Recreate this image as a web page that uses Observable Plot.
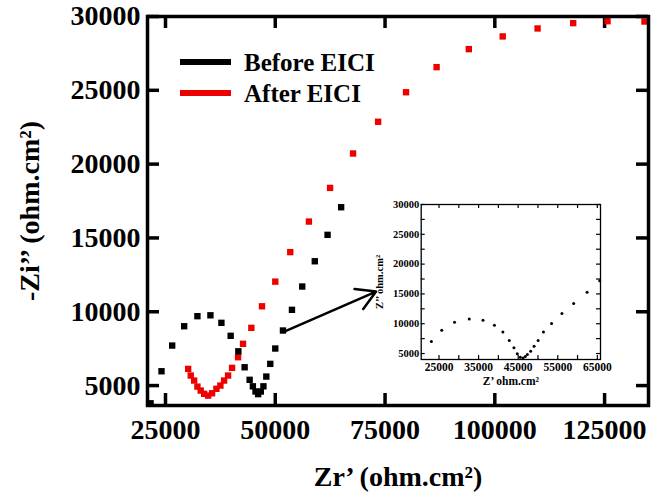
<!DOCTYPE html>
<html><head><meta charset="utf-8">
<script src="https://cdn.jsdelivr.net/npm/d3@7"></script>
<script src="https://cdn.jsdelivr.net/npm/@observablehq/plot@0.6"></script>
<style>
body{margin:0;background:#fff;}
#wrap{position:relative;width:667px;height:492px;overflow:hidden;background:#fff;}
#wrap svg{position:absolute;}
#legend{position:absolute;left:180px;top:46.5px;font-family:"Liberation Serif","Times New Roman",serif;font-weight:bold;font-size:25px;line-height:31px;color:#000;}
#legend .row{display:flex;align-items:center;height:31px;}
#legend .sw{width:51px;height:6px;margin-right:13px;}
</style></head><body><div id="wrap"></div>
<script>
// Main chart data (Zr', -Zi'')
const beforeX = [21600,24090,26520,29250,32270,35230,37730,39840,41590,43020,44160,44900,45500,46100,46700,47300,47960,48860,50000,51750,53800,56140,59000,61910,65000];
const beforeY = [3800,5970,7710,9020,9700,9760,9250,8370,7320,6240,5390,4950,4600,4420,4600,4950,5610,6470,7510,8730,10130,11710,13420,15210,17080];
const afterX = [30160,30750,31520,32270,33020,33800,34710,35610,36590,37500,38340,39250,40160,41530,42660,44550,46980,50000,53410,57660,62480,67710,73420,79780,86740,94080,101800,109740,117850,125670,134080];
const afterY = [6130,5680,5340,4930,4660,4440,4320,4480,4780,5000,5340,5680,6200,6920,7830,8910,10370,12040,14040,16110,18390,20720,22870,24870,26570,27790,28650,29190,29550,29680,29660];
const xTicks = [25000,50000,75000,100000,125000];
const yTicks = [5000,10000,15000,20000,25000,30000];
const seriesNames = ["Before EICI","After EICI"];
const seriesColors = ["#000000","#ee0000"];
// arrow annotation (data units): from point to inset
const arrowFrom = [52050, 8660];
const arrowTo = [72960, 11370];

// Inset data
const insetX = [23070,25690,28920,32640,36120,39000,41140,42740,43930,44770,45540,46230,46810,47320,48160,49020,50040,51390,53430,56050,59030,62410,65600];
const insetY = [7030,8890,10240,10800,10580,9730,8600,7200,5960,4950,4370,4270,4490,4830,5390,6230,7200,8600,10020,11710,13400,15260,17220];
const insetXTicks = [25000,35000,45000,55000,65000];
const insetXMinor = [25000,30000,35000,40000,45000,50000,55000,60000,65000];
const insetYTicks = [5000,10000,15000,20000,25000,30000];
const insetYMinor = [5000,7500,10000,12500,15000,17500,20000,22500,25000,27500,30000];

const before = beforeX.map((x,i)=>({x, y: beforeY[i]}));
const after = afterX.map((x,i)=>({x, y: afterY[i]}));
const inset = insetX.map((x,i)=>({x, y: insetY[i]}));
const arrows = [{x1: arrowFrom[0], y1: arrowFrom[1], x2: arrowTo[0], y2: arrowTo[1]}];

const serif = "'Liberation Serif','Times New Roman',serif";

// main layout
const W = 667, H = 492, mL = 147, mR = 19, mT = 16, mB = 87;
const fw = W - mL - mR, fh = H - mT - mB;
const T = 12; // inward tick length

function inwardTicks(xs, ys, frameW, frameH, len, sw, col) {
  return [
    Plot.ruleX(xs, {x: d => d, insetTop: frameH - len, stroke: col, strokeWidth: sw}),
    Plot.ruleX(xs, {x: d => d, insetBottom: frameH - len, stroke: col, strokeWidth: sw}),
    Plot.ruleY(ys, {y: d => d, insetRight: frameW - len, stroke: col, strokeWidth: sw}),
    Plot.ruleY(ys, {y: d => d, insetLeft: frameW - len, stroke: col, strokeWidth: sw})
  ];
}

const big = {fontSize: 28, fontWeight: "bold", fontFamily: serif, tickFormat: d => String(d)};
const main = Plot.plot({
  width: W, height: H,
  marginLeft: mL, marginRight: mR, marginTop: mT, marginBottom: mB,
  style: {background: "transparent", fontFamily: serif, color: "#000", overflow: "visible"},
  x: {domain: [20900, 135000]},
  y: {domain: [3650, 30000]},
  marks: [
    ...inwardTicks(xTicks, yTicks, fw, fh, T, 3.5, "#000"),
    Plot.dot(after, {x: "x", y: "y", symbol: "square", r: 3.6, fill: seriesColors[1]}),
    Plot.dot(before, {x: "x", y: "y", symbol: "square", r: 3.6, fill: seriesColors[0]}),
    Plot.arrow(arrows, {x1: "x1", y1: "y1", x2: "x2", y2: "y2", stroke: "#000", strokeWidth: 2.5, headLength: 13}),
    Plot.axisX(xTicks, {anchor: "bottom", tickSize: 0, tickPadding: 14, ...big,
      label: "Zr’ (ohm.cm²)", labelAnchor: "center", labelOffset: 80, labelArrow: "none"}),
    Plot.axisY(yTicks, {anchor: "left", tickSize: 0, tickPadding: 7, ...big,
      label: "-Zi’’ (ohm.cm²)", labelAnchor: "center", labelOffset: 128, labelArrow: "none"}),
    Plot.frame({stroke: "#000", strokeWidth: 3.5})
  ]
});
main.style.left = "0px"; main.style.top = "0px";

// inset layout
const iW = 240, iH = 200, imL = 50.7, imR = 10, imT = 9, imB = 36;
const ifw = iW - imL - imR, ifh = iH - imT - imB;
const small = {fontSize: 10.5, fontWeight: "bold", fontFamily: serif, tickFormat: d => String(d)};
const insetPlot = Plot.plot({
  width: iW, height: iH,
  marginLeft: imL, marginRight: imR, marginTop: imT, marginBottom: imB,
  style: {background: "transparent", fontFamily: serif, color: "#000", overflow: "visible"},
  x: {domain: [20500, 65800]},
  y: {domain: [4000, 30000]},
  marks: [
    ...inwardTicks(insetXMinor, insetYMinor, ifw, ifh, 4, 1.2, "#000"),
    Plot.dot(inset, {x: "x", y: "y", r: 1.5, fill: "#000"}),
    Plot.axisX(insetXTicks, {anchor: "bottom", tickSize: 0, tickPadding: 3, ...small,
      label: "Z’ ohm.cm²", labelAnchor: "center", labelOffset: 25, labelArrow: "none", fontSize: 11.5}),
    Plot.axisY(insetYTicks, {anchor: "left", tickSize: 0, tickPadding: 2, ...small,
      label: "Z’’ ohm.cm²", labelAnchor: "center", labelOffset: 46, labelArrow: "none", fontSize: 10.5}),
    Plot.frame({stroke: "#000", strokeWidth: 1.3})
  ]
});
insetPlot.style.left = "370px"; insetPlot.style.top = "195px";

const wrap = document.getElementById("wrap");
wrap.appendChild(main);
wrap.appendChild(insetPlot);

const legend = document.createElement("div");
legend.id = "legend";
seriesNames.forEach((name, i) => {
  const row = document.createElement("div");
  row.className = "row";
  const sw = document.createElement("span");
  sw.className = "sw";
  sw.style.background = seriesColors[i];
  const tx = document.createElement("span");
  tx.textContent = name;
  row.appendChild(sw); row.appendChild(tx);
  legend.appendChild(row);
});
wrap.appendChild(legend);
</script>
</body></html>
